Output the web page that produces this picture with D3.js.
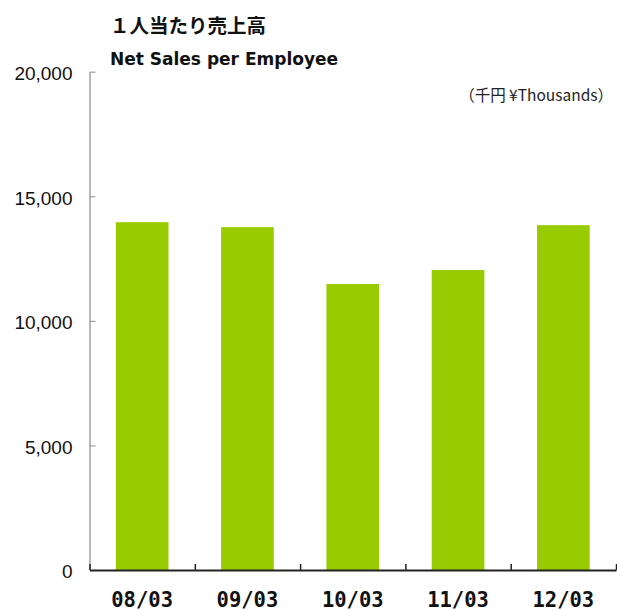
<!DOCTYPE html>
<html>
<head>
<meta charset="utf-8">
<script src="https://cdn.jsdelivr.net/npm/d3@7"></script>
<style>
  body { margin: 0; background: #fff; }
  svg { display: block; }
</style>
</head>
<body>
<div id="chart"></div>
<script>
var width = 617;
var height = 610;

// data
var years = ["08/03", "09/03", "10/03", "11/03", "12/03"];
var sales = [13960, 13760, 11480, 12040, 13840];
var yTicks = [0, 5000, 10000, 15000, 20000];

var plotLeft = 89.5, plotRight = 616, plotTop = 71.7, plotBottom = 570;

var svg = d3.select("#chart")
    .append("svg")
    .attr("width", width)
    .attr("height", height);

var xScale = d3.scaleBand().domain(years).range([plotLeft, plotRight])
    .paddingInner(0.5).paddingOuter(0.25);
var edgeScale = d3.scaleLinear().domain([0, years.length]).range([plotLeft, plotRight]);
var yScale = d3.scaleLinear().domain([0, 20000]).range([plotBottom, plotTop]);

// titles
svg.append("text")
    .attr("x", 110).attr("y", 32.5)
    .style("font-family", "'Noto Sans CJK JP', sans-serif")
    .style("font-weight", "bold")
    .style("font-size", "19.5px")
    .style("fill", "#111")
    .text("１人当たり売上高");

svg.append("text")
    .attr("x", 110).attr("y", 64.5)
    .style("font-family", "'DejaVu Sans', sans-serif")
    .style("font-weight", "bold")
    .style("font-size", "17px")
    .style("fill", "#111")
    .text("Net Sales per Employee");

svg.append("text")
    .attr("x", 613).attr("y", 101)
    .style("text-anchor", "end")
    .style("font-family", "'Noto Sans CJK JP', sans-serif")
    .style("font-size", "15.5px")
    .style("fill", "#222")
    .text("（千円 ¥Thousands）");

// bars
svg.selectAll("rect.bar")
    .data(sales)
    .enter()
    .append("rect")
    .attr("class", "bar")
    .attr("x", function(d, i) { return xScale(years[i]); })
    .attr("width", xScale.bandwidth())
    .attr("y", function(d) { return yScale(d); })
    .attr("height", function(d) { return plotBottom - yScale(d); })
    .attr("fill", "#99cc00");

// y axis
var yAxis = d3.axisLeft(yScale)
    .tickValues(yTicks)
    .tickSizeInner(-6)
    .tickSizeOuter(0)
    .tickPadding(17)
    .tickFormat(d3.format(","));

var yg = svg.append("g")
    .attr("transform", "translate(" + plotLeft + ",0)")
    .call(yAxis);
yg.select(".domain").attr("stroke", "#a0a0a0").attr("stroke-width", 1.5);
yg.selectAll(".tick line").attr("stroke", "#a0a0a0").attr("stroke-width", 1.2);
yg.selectAll(".tick").filter(function(d) { return d === 0; }).select("line").remove();
yg.selectAll(".tick text")
    .attr("dy", "0.42em")
    .style("font-family", "'Liberation Sans', Arial, sans-serif")
    .style("font-size", "19px")
    .style("fill", "#111");

// x axis (ticks between categories)
var xAxis = d3.axisBottom(edgeScale)
    .tickValues(d3.range(years.length + 1))
    .tickSizeInner(-6)
    .tickSizeOuter(0)
    .tickFormat("");

var xg = svg.append("g")
    .attr("transform", "translate(0," + plotBottom + ")")
    .call(xAxis);
xg.select(".domain").attr("stroke", "#222").attr("stroke-width", 2);
xg.selectAll(".tick line").attr("stroke", "#222").attr("stroke-width", 1.5);

// category labels
svg.selectAll("text.cat")
    .data(years)
    .enter()
    .append("text")
    .attr("class", "cat")
    .attr("x", function(d) { return xScale(d) + xScale.bandwidth() / 2; })
    .attr("y", 606.5)
    .style("text-anchor", "middle")
    .style("font-family", "'DejaVu Sans Mono', monospace")
    .style("font-weight", "bold")
    .style("font-size", "20.5px")
    .style("fill", "#111")
    .text(function(d) { return d; });
</script>
</body>
</html>
